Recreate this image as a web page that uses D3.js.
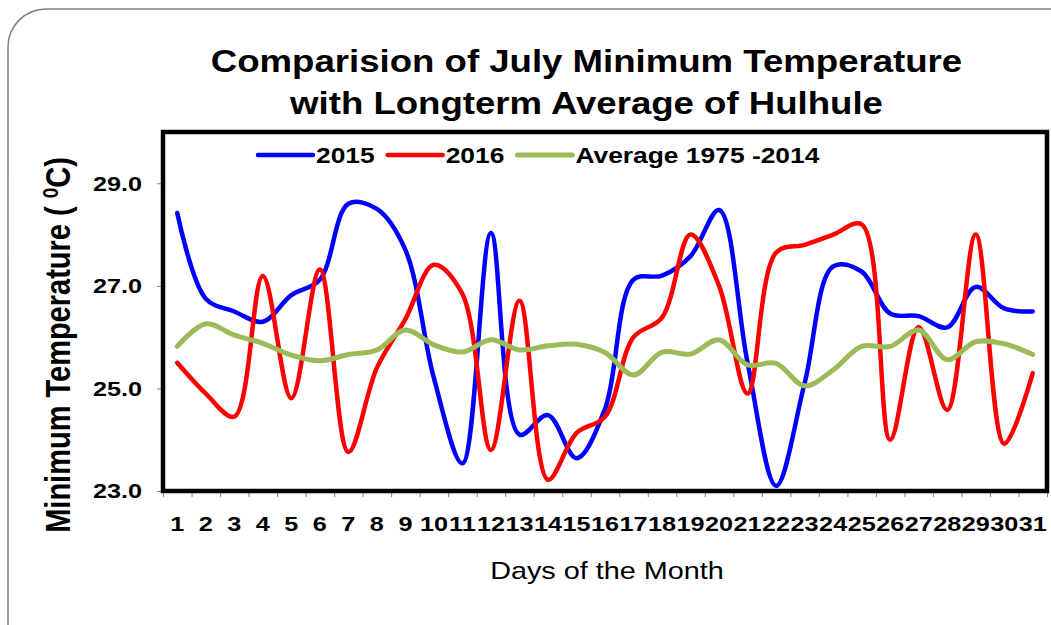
<!DOCTYPE html>
<html>
<head>
<meta charset="utf-8">
<script src="https://cdn.jsdelivr.net/npm/d3@7"></script>
<style>
  body { margin: 0; background: #fff; }
  text { font-family: "Liberation Sans", Arial, sans-serif; }
</style>
</head>
<body>
<div id="chart"></div>
<script>
// data
const days = d3.range(1, 32).map(String);
const temp2015 = [28.42, 26.75, 26.5, 26.3, 26.82, 27.12, 28.6, 28.5, 27.7, 25.2,
  23.54, 28.03, 24.1, 24.48, 23.64, 24.6, 27.12, 27.2, 27.58, 28.48,
  25.5, 23.1, 25.1, 27.38, 27.28, 26.46, 26.41, 26.19, 26.98, 26.56, 26.5];
const temp2016 = [25.5, 24.9, 24.45, 27.19, 24.81, 27.32, 23.76, 25.4, 26.35, 27.41,
  26.84, 23.8, 26.71, 23.22, 24.13, 24.45, 26.0, 26.38, 28.0, 27.0,
  24.9, 27.65, 27.8, 28.0, 28.2, 24.0, 26.2, 24.58, 28.0, 23.92, 25.3];
const tempAvg = [25.82, 26.26, 26.04, 25.88, 25.65, 25.54, 25.66, 25.75, 26.14, 25.85,
  25.71, 25.95, 25.75, 25.83, 25.86, 25.7, 25.26, 25.71, 25.67, 25.95,
  25.46, 25.49, 25.05, 25.36, 25.82, 25.82, 26.14, 25.56, 25.91, 25.87, 25.66];
const yTicks = [23, 25, 27, 29];
const seriesNames = ["2015", "2016", "Average 1975 -2014"];
const seriesColors = ["#0000ff", "#ff0000", "#9bbb59"];

const width = 1051, height = 625;
const plot = { left: 163, right: 1047, top: 132, bottom: 491 };
const sx = 1.2; // the original is stretched sideways

const svg = d3.select("#chart").append("svg")
  .attr("width", width)
  .attr("height", height);

// outer rounded border
svg.append("rect")
  .attr("x", 8).attr("y", 9)
  .attr("width", 1100).attr("height", 700)
  .attr("rx", 38)
  .attr("fill", "none")
  .attr("stroke", "#808080")
  .attr("stroke-width", 1.5);

// Title
const titleLines = ["Comparision of July Minimum Temperature", "with Longterm Average of Hulhule"];
titleLines.forEach((t, i) => {
  svg.append("text")
    .attr("transform", `translate(586.5, ${72 + i * 42}) scale(1.2, 1)`)
    .attr("text-anchor", "middle")
    .attr("font-size", "30.5px")
    .attr("font-weight", "bold")
    .text(t);
});

// Scales
const x = d3.scaleBand()
  .domain(days)
  .range([plot.left, plot.right]);
const xEdge = d3.scaleLinear()
  .domain([0, days.length])
  .range([plot.left, plot.right]);
const y = d3.scaleLinear()
  .domain([23, 30])
  .range([plot.bottom, plot.top]);

// Y Axis
const yAxis = svg.append("g")
  .attr("transform", `translate(${plot.left}, 0)`)
  .call(d3.axisLeft(y).tickValues(yTicks).tickFormat(d3.format(".1f")).tickSize(6));
yAxis.select(".domain").remove();
yAxis.selectAll("line").attr("stroke", "#808080");
yAxis.selectAll("text")
  .attr("x", -21 / sx)
  .attr("transform", `scale(${sx}, 1)`)
  .attr("font-size", "21px")
  .attr("font-weight", "bold")
  .attr("fill", "#000")
  .style("font-family", "'Liberation Sans', Arial, sans-serif");

// X Axis: boundary ticks
const xTickAxis = svg.append("g")
  .attr("transform", `translate(0, ${plot.bottom})`)
  .call(d3.axisBottom(xEdge).tickValues(d3.range(0, days.length + 1)).tickFormat("").tickSize(6));
xTickAxis.select(".domain").remove();
xTickAxis.selectAll("line").attr("stroke", "#808080");

// X Axis: day labels
const xLabelAxis = svg.append("g")
  .attr("transform", `translate(0, ${plot.bottom})`)
  .call(d3.axisBottom(x).tickSize(0).tickPadding(25));
xLabelAxis.select(".domain").remove();
xLabelAxis.selectAll("text")
  .attr("transform", `scale(${sx}, 1)`)
  .attr("font-size", "21px")
  .attr("font-weight", "bold")
  .attr("fill", "#000")
  .style("font-family", "'Liberation Sans', Arial, sans-serif");

// axis titles
const yTitle = svg.append("text")
  .attr("transform", `translate(70, 345) scale(${sx}, 1) rotate(-90)`)
  .attr("text-anchor", "middle")
  .attr("font-size", "29px")
  .attr("font-weight", "bold");
yTitle.append("tspan").text("Minimum Temperature ( ");
yTitle.append("tspan").attr("font-size", "19px").attr("dy", -10).text("0");
yTitle.append("tspan").attr("dy", 10).text("C)");

svg.append("text")
  .attr("transform", `translate(607, 579) scale(${sx}, 1)`)
  .attr("text-anchor", "middle")
  .attr("font-size", "24px")
  .text("Days of the Month");

// series lines
const line = d3.line()
  .x((d, i) => x(days[i]) + x.bandwidth() / 2)
  .y(d => y(d))
  .curve(d3.curveCatmullRom.alpha(0.5));

[temp2015, temp2016, tempAvg].forEach((vals, i) => {
  svg.append("path")
    .datum(vals)
    .attr("fill", "none")
    .attr("stroke", seriesColors[i])
    .attr("stroke-width", i === 2 ? 5 : 4.5)
    .attr("stroke-linecap", "round")
    .attr("stroke-linejoin", "round")
    .attr("d", line);
});

// plot frame
svg.append("rect")
  .attr("x", plot.left).attr("y", plot.top)
  .attr("width", plot.right - plot.left)
  .attr("height", plot.bottom - plot.top)
  .attr("fill", "none")
  .attr("stroke", "#000")
  .attr("stroke-width", 4.5);

// Legend
const legend = svg.append("g");
let lx = 258;
seriesNames.forEach((name, i) => {
  legend.append("line")
    .attr("x1", lx).attr("x2", lx + 55)
    .attr("y1", 155).attr("y2", 155)
    .attr("stroke", seriesColors[i])
    .attr("stroke-width", i === 2 ? 5 : 4.5)
    .attr("stroke-linecap", "round");
  const t = legend.append("text")
    .attr("transform", `translate(${lx + 58}, 163) scale(${sx}, 1)`)
    .attr("font-size", "22px")
    .attr("font-weight", "bold")
    .text(name);
  lx += 58 + t.node().getComputedTextLength() * sx + 13;
});
</script>
</body>
</html>
